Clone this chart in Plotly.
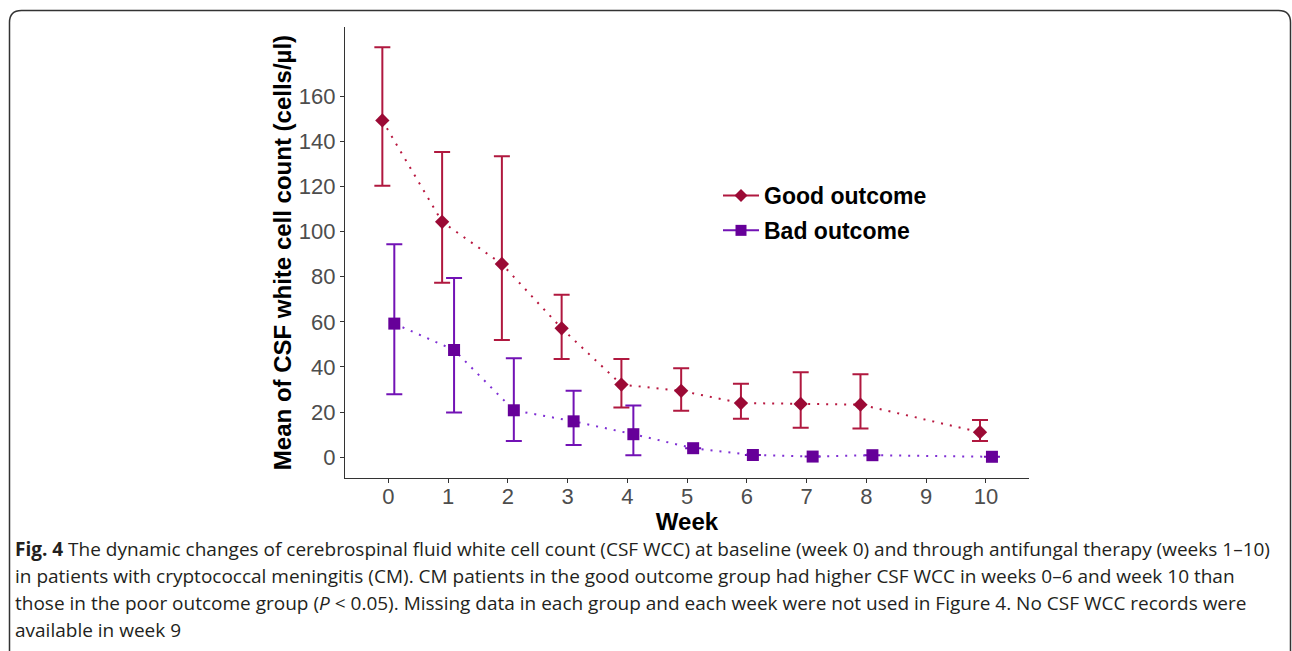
import plotly.graph_objects as go

# ---- data ----
weeks = [0, 1, 2, 3, 4, 5, 6, 7, 8, 10]
good_mean = [149.2, 104.3, 85.6, 57.1, 32.2, 29.4, 24.0, 23.6, 23.3, 11.1]
good_upper = [181.6, 135.2, 133.3, 72.0, 43.5, 39.4, 32.6, 37.6, 36.8, 16.5]
good_lower = [120.3, 77.3, 51.9, 43.5, 22.0, 20.6, 17.0, 13.1, 12.7, 7.2]
bad_mean = [59.2, 47.5, 20.8, 15.9, 10.2, 4.0, 1.0, 0.3, 0.9, 0.2]
bad_upper = [94.3, 79.4, 43.8, 29.5, 22.9, 4.0, 1.0, 0.3, 0.9, 0.2]
bad_lower = [27.9, 19.8, 7.2, 5.4, 0.9, 4.0, 1.0, 0.3, 0.9, 0.2]
x_ticks = [0, 1, 2, 3, 4, 5, 6, 7, 8, 9, 10]
y_ticks = [0, 20, 40, 60, 80, 100, 120, 140, 160]
series_names = ["Good outcome", "Bad outcome"]
dodge = 0.1

caption_lines = [
    "<b>Fig. 4</b> The dynamic changes of cerebrospinal fluid white cell count (CSF WCC) at baseline (week 0) and through antifungal therapy (weeks 1–10)",
    "in patients with cryptococcal meningitis (CM). CM patients in the good outcome group had higher CSF WCC in weeks 0–6 and week 10 than",
    "those in the poor outcome group (<i>P</i> &lt; 0.05). Missing data in each group and each week were not used in Figure 4. No CSF WCC records were",
    "available in week 9",
]

W, H = 1292, 651
L, R, T, B = 345, 263, 27, 173
pw, ph = W - L - R, H - T - B


def px(xp):
    return (xp - L) / pw


def py(yp):
    return (H - B - yp) / ph


GOOD_M, GOOD_E, GOOD_L = "#9B0A35", "#B0183F", "#B8173F"
BAD_M, BAD_E, BAD_L = "#660099", "#7212B5", "#7F2FD4"

fig = go.Figure()

gx = [w - dodge for w in weeks]
bx = [w + dodge for w in weeks]

fig.add_trace(go.Scatter(
    x=gx, y=good_mean, mode="lines+markers", name=series_names[0],
    showlegend=False,
    line=dict(color=GOOD_L, width=2, dash="2px,7px"),
    marker=dict(symbol="diamond", size=11, color=GOOD_M),
    error_y=dict(type="data", symmetric=False,
                 array=[u - m for u, m in zip(good_upper, good_mean)],
                 arrayminus=[m - l for m, l in zip(good_mean, good_lower)],
                 color=GOOD_E, thickness=2, width=8),
))
fig.add_trace(go.Scatter(
    x=bx, y=bad_mean, mode="lines+markers", name=series_names[1],
    showlegend=False,
    line=dict(color=BAD_L, width=2, dash="2px,7px"),
    marker=dict(symbol="square", size=12, color=BAD_M),
    error_y=dict(type="data", symmetric=False,
                 array=[u - m for u, m in zip(bad_upper, bad_mean)],
                 arrayminus=[m - l for m, l in zip(bad_mean, bad_lower)],
                 color=BAD_E, thickness=2, width=8),
))

# legend entries (solid key lines, as in the reference legend)
fig.add_trace(go.Scatter(
    x=[None], y=[None], mode="lines+markers", name=series_names[0], legendgroup="g",
    line=dict(color=GOOD_E, width=2), marker=dict(symbol="diamond", size=10, color=GOOD_M),
))
fig.add_trace(go.Scatter(
    x=[None], y=[None], mode="lines+markers", name=series_names[1], legendgroup="b",
    line=dict(color=BAD_E, width=2), marker=dict(symbol="square", size=11, color=BAD_M),
))

axis_font = dict(family="Liberation Sans, Arial, sans-serif", size=22, color="#4D4D4D")
title_font = dict(family="Liberation Sans, Arial, sans-serif", size=24, color="#000000")

fig.update_xaxes(
    range=[-0.725, 10.72], tickvals=x_ticks, ticktext=[str(t) for t in x_ticks],
    showline=True, linecolor="#333333", linewidth=1.2, mirror=False,
    ticks="outside", ticklen=4, tickcolor="#333333", tickwidth=1.2,
    showgrid=False, zeroline=False, tickfont=axis_font, ticklabelstandoff=-6,
    title=dict(text="<b>Week</b>", font=title_font, standoff=0),
)
fig.update_yaxes(
    range=[-9.2, 190.6], tickvals=y_ticks,
    showline=True, linecolor="#333333", linewidth=1.2, mirror=False,
    ticks="outside", ticklen=4, tickcolor="#333333", tickwidth=1.2,
    showgrid=False, zeroline=False, tickfont=axis_font,
    title=dict(text="<b>Mean of CSF white cell count (cells/µl)</b>", font=title_font, standoff=0),
)

annotations = []
line_y = [549, 576, 603, 630]
for txt, yy in zip(caption_lines, line_y):
    annotations.append(dict(
        text=txt, xref="paper", yref="paper", x=px(13), y=py(yy),
        xanchor="left", yanchor="middle", showarrow=False,
        font=dict(family="Open Sans, sans-serif", size=19, color="#231F20"),
    ))

# rounded frame around figure+caption
rad = 12
x0, x1, y0, y1 = 9.5, 1290.5, 10.5, 665
path = (
    f"M {px(x0)},{py(y1)} L {px(x0)},{py(y0 + rad)} "
    f"Q {px(x0)},{py(y0)} {px(x0 + rad)},{py(y0)} "
    f"L {px(x1 - rad)},{py(y0)} Q {px(x1)},{py(y0)} {px(x1)},{py(y0 + rad)} "
    f"L {px(x1)},{py(y1)}"
)
shapes = [dict(type="path", xref="paper", yref="paper", path=path,
               line=dict(color="#333333", width=1.5))]

fig.update_layout(
    width=W, height=H,
    margin=dict(l=L, r=R, t=T, b=B, autoexpand=False),
    paper_bgcolor="white", plot_bgcolor="white",
    showlegend=True,
    legend=dict(x=px(718), y=py(174), xanchor="left", yanchor="top",
                font=dict(family="Liberation Sans, Arial, sans-serif", size=23, color="#000000", weight="bold"),
                bgcolor="rgba(0,0,0,0)", tracegroupgap=2, traceorder="grouped", itemwidth=36),
    annotations=annotations, shapes=shapes,
)

fig.write_html("out.html")
